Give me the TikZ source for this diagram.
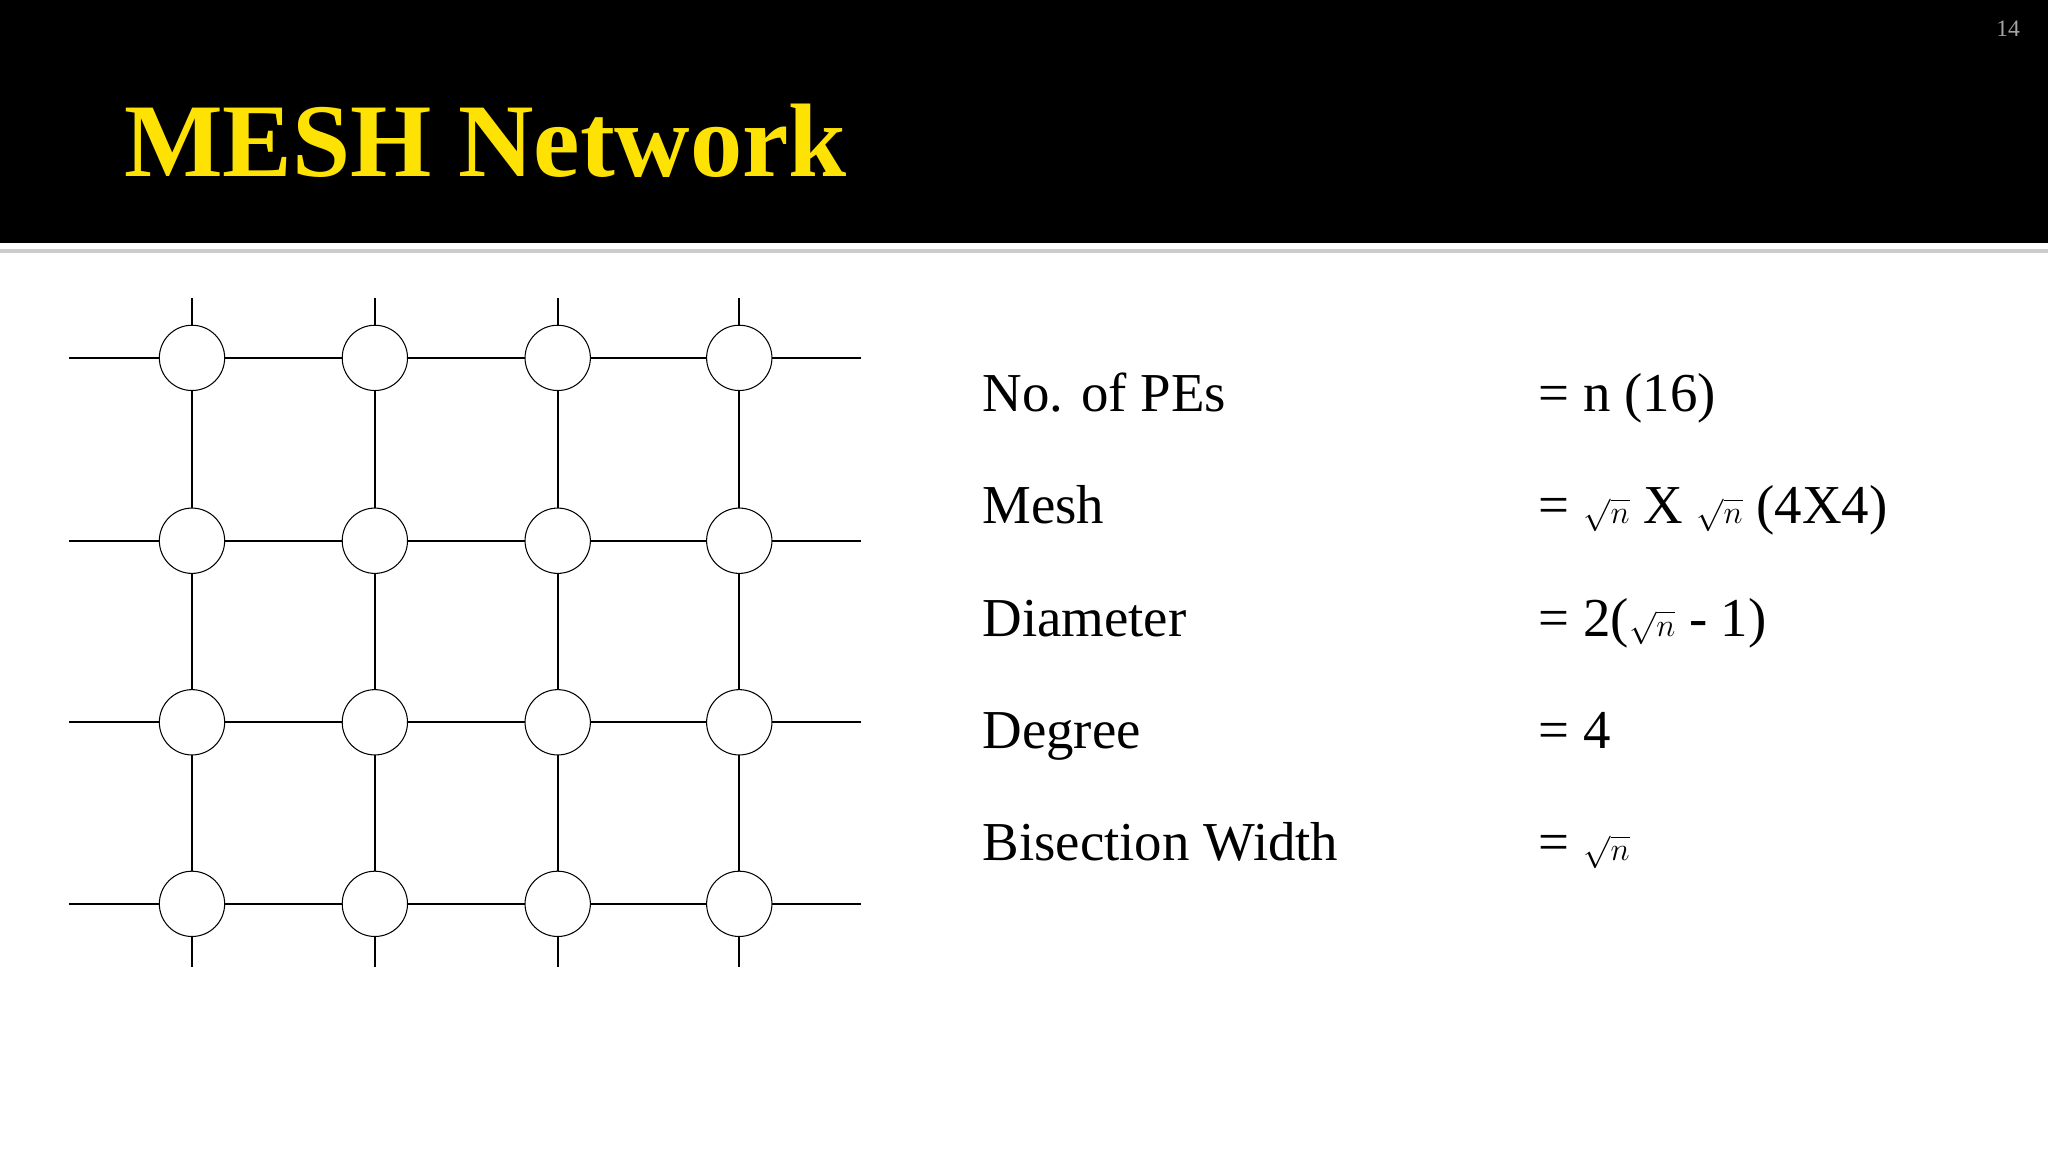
\documentclass[tikz,border=0pt]{standalone}
\usepackage{fontspec}
\setmainfont{Liberation Serif}
\newfontfamily\hdfont{Liberation Serif}
\begin{document}
\begin{tikzpicture}[x=1pt,y=-1pt,
  pe/.style={circle,draw,thick,fill=white,minimum size=50pt,inner sep=0pt},
  ln/.style={line width=1.6pt},
  lab/.style={anchor=base west,font=\fontsize{42}{48}\selectfont,inner sep=0pt}]
\useasboundingbox (0,0) rectangle (1568,891);
\fill[black] (0,0) rectangle (1568,186);
\fill[gray!40] (0,191) rectangle (1568,194);
\node[anchor=base west,inner sep=0pt,text=yellow!85!orange,font=\hdfont\bfseries\fontsize{80}{90}\selectfont] (t) at (95,135) {MESH Network};
\node[anchor=east,text=gray!70,font=\fontsize{18}{20}\selectfont] (num) at (1550,22) {14};
\foreach \i/\x in {1/147,2/287,3/427,4/566}{
  \draw[ln] (\x,228) -- (\x,740);}
\foreach \j/\y in {1/274,2/414,3/553,4/692}{
  \draw[ln] (53,\y) -- (659,\y);}
\foreach \i/\x in {1/147,2/287,3/427,4/566}
  \foreach \j/\y in {1/274,2/414,3/553,4/692}
    \node[pe] (p\i\j) at (\x,\y) {};
\node[lab] (l1) at (752,315) {No. of PEs};
\node[lab] (l2) at (752,401) {Mesh};
\node[lab] (l3) at (752,487) {Diameter};
\node[lab] (l4) at (752,573) {Degree};
\node[lab] (l5) at (752,659) {Bisection Width};
\node[lab] (v1) at (1178,315) {= n (16)};
\node[lab] (v2) at (1178,401) {= $\sqrt{n}$ X $\sqrt{n}$ (4X4)};
\node[lab] (v3) at (1178,487) {= 2($\sqrt{n}$ - 1)};
\node[lab] (v4) at (1178,573) {= 4};
\node[lab] (v5) at (1178,659) {= $\sqrt{n}$};
\end{tikzpicture}
\end{document}
